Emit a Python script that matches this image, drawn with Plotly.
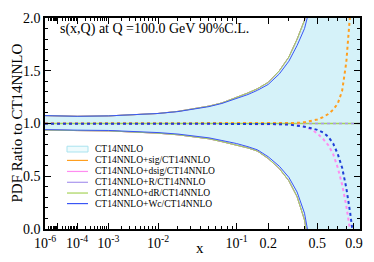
import plotly.graph_objects as go

# ---------------- data ----------------
P = 0.2  # x-axis is linear in x**P

x_band = [1e-6, 1e-5, 1e-4, 1e-3, 3e-3, 1e-2, 2e-2, 3e-2, 5e-2, 0.07, 0.1, 0.13,
          0.16, 0.2, 0.25, 0.3, 0.35, 0.4, 0.45, 0.5, 0.6, 0.7, 0.8, 0.9, 1.0]
ct14_up = [1.075, 1.07, 1.068, 1.072, 1.08, 1.095, 1.115, 1.135, 1.165, 1.195, 1.245, 1.29,
           1.33, 1.39, 1.50, 1.63, 1.80, 1.98, 2.25, 2.6, 3.3, 4.0, 4.5, 5.0, 5.5]
ct14_lo = [0.938, 0.935, 0.933, 0.93, 0.923, 0.908, 0.893, 0.878, 0.855, 0.828, 0.798, 0.768,
           0.738, 0.668, 0.572, 0.457, 0.305, 0.085, -0.3, -0.8, -1.5, -2.0, -2.5, -3.0, -3.5]
wc_up = [1.075, 1.07, 1.068, 1.072, 1.08, 1.095, 1.113, 1.13, 1.16, 1.19, 1.235, 1.275,
         1.315, 1.37, 1.47, 1.59, 1.74, 1.90, 2.15, 2.5, 3.2, 3.9, 4.4, 4.9, 5.4]
wc_lo = [0.942, 0.939, 0.937, 0.934, 0.928, 0.914, 0.9, 0.887, 0.864, 0.839, 0.81, 0.78,
         0.75, 0.685, 0.595, 0.49, 0.35, 0.15, -0.2, -0.7, -1.4, -1.9, -2.4, -2.9, -3.4]

x_cen = [1e-6, 1e-3, 0.1, 0.2, 0.3, 0.35, 0.4, 0.45, 0.5, 0.55, 0.6, 0.65,
         0.7, 0.75, 0.8, 0.85, 0.9, 0.95, 1.0]
sig_cen = [1.0, 1.0, 1.0, 1.0, 1.003, 1.006, 1.012, 1.022, 1.038, 1.06, 1.09, 1.13,
           1.19, 1.31, 1.58, 2.05, 3.0, 4.0, 5.0]
dsig_cen = [1.0, 1.0, 1.0, 0.998, 0.993, 0.985, 0.97, 0.945, 0.905, 0.855, 0.795, 0.71,
            0.58, 0.42, 0.22, -0.02, -0.4, -0.9, -1.5]
r_cen = [1.0, 1.0, 1.0, 1.0, 1.0, 1.0, 1.0, 1.0, 1.0, 1.0, 1.0, 1.0,
         1.0, 1.0, 1.0, 1.0, 1.0, 1.0, 1.0]
dr_cen = [1.0, 1.0, 1.0, 1.0, 1.0, 1.0, 1.0, 1.0, 1.0, 1.0, 1.0, 1.0,
          1.0, 1.0, 1.0, 1.0, 1.0, 1.0, 1.0]
wc_cen = [0.998, 0.998, 0.998, 0.996, 0.99, 0.982, 0.97, 0.955, 0.94, 0.915, 0.875, 0.81,
          0.71, 0.58, 0.39, 0.15, -0.12, -0.6, -1.2]

legend_labels = ["CT14NNLO", "CT14NNLO+sig/CT14NNLO", "CT14NNLO+dsig/CT14NNLO",
                 "CT14NNLO+R/CT14NNLO", "CT14NNLO+dR/CT14NNLO", "CT14NNLO+Wc/CT14NNLO"]

x_tick_vals = [1e-6, 1e-5, 1e-4, 1e-3, 1e-2, 0.1, 0.2, 0.5, 0.9]
x_tick_text = ["10<sup>-6</sup>", "", "10<sup>-4</sup>", "10<sup>-3</sup>", "10<sup>-2</sup>",
               "10<sup>-1</sup>", "0.2", "0.5", "0.9"]
x_minor_mult = [2, 3, 4, 5, 6, 7, 8, 9]
x_minor_decades = [1e-6, 1e-5, 1e-4, 1e-3, 1e-2, 1e-1]

title_text = "s(x,Q) at Q =100.0 GeV 90%C.L."

# ---------------- styles ----------------
FONT = "Liberation Serif"
BAND_FILL = "#d5f2f9"
BAND_LINE = "#a9e3ef"
C_SIG = "#ff9f1f"
C_DSIG = "#ff8cf0"
C_R = "#a996ee"
C_DR = "#a6d35a"
C_WC = "#3a56f5"
C_WC_DOT = "#1f3fd8"

def tx(xs):
    return [v ** P for v in xs]

fig = go.Figure()
# CT14NNLO band
fig.add_trace(go.Scatter(x=tx(x_band), y=ct14_lo, mode="lines",
                         line=dict(color=BAND_LINE, width=0.6), showlegend=False))
fig.add_trace(go.Scatter(x=tx(x_band), y=ct14_up, mode="lines", fill="tonexty",
                         fillcolor=BAND_FILL, line=dict(color=BAND_LINE, width=0.6),
                         showlegend=False))
# error edges of the variants
for col, up, lo in [(C_SIG, ct14_up, ct14_lo), (C_DSIG, ct14_up, ct14_lo),
                    (C_R, ct14_up, ct14_lo), (C_DR, ct14_up, ct14_lo), (C_WC, wc_up, wc_lo)]:
    for arr in (up, lo):
        fig.add_trace(go.Scatter(x=tx(x_band), y=arr, mode="lines",
                                 line=dict(color=col, width=1), showlegend=False))
# central values
fig.add_trace(go.Scatter(x=tx(x_cen), y=dr_cen, mode="lines",
                         line=dict(color=C_DR, width=1.5), showlegend=False))
fig.add_trace(go.Scatter(x=tx(x_cen), y=r_cen, mode="lines",
                         line=dict(color=C_R, width=1.5, dash="dot"), showlegend=False))
fig.add_trace(go.Scatter(x=tx(x_cen), y=dsig_cen, mode="lines",
                         line=dict(color=C_DSIG, width=2, dash="dot"), showlegend=False))
fig.add_trace(go.Scatter(x=tx(x_cen), y=sig_cen, mode="lines",
                         line=dict(color=C_SIG, width=2, dash="dot"), showlegend=False))
fig.add_trace(go.Scatter(x=tx(x_cen), y=wc_cen, mode="lines",
                         line=dict(color=C_WC_DOT, width=2, dash="dot"), showlegend=False))

# ---------------- layout ----------------
L, R, T, B = 45, 14, 11, 31
W, H = 374, 262
PW, PH = W - L - R, H - T - B

def px(xp):
    return (xp - L) / PW

def py(yp):
    return (H - B - yp) / PH

minor_x = [m * d for d in x_minor_decades for m in x_minor_mult if m * d < 0.97]

fig.update_layout(
    width=W, height=H, margin=dict(l=L, r=R, t=T, b=B),
    paper_bgcolor="white", plot_bgcolor="white",
    font=dict(family=FONT, size=14, color="black"),
    showlegend=False,
    xaxis=dict(range=[(1e-6) ** P, 0.997], tickvals=tx(x_tick_vals), ticktext=x_tick_text,
               ticks="inside", ticklen=6, tickwidth=1, tickcolor="black",
               showline=True, linecolor="black", linewidth=1.5, mirror="ticks",
               showgrid=False, zeroline=False, tickfont=dict(size=14),
               minor=dict(tickvals=tx(minor_x), ticks="inside", ticklen=3,
                          tickcolor="black", tickwidth=1, showgrid=False)),
    yaxis=dict(range=[0, 2], dtick=0.5, tickformat=".1f",
               ticks="inside", ticklen=6, tickwidth=1, tickcolor="black",
               showline=True, linecolor="black", linewidth=1.5, mirror="ticks",
               showgrid=False, zeroline=False, tickfont=dict(size=14),
               minor=dict(dtick=0.1, ticks="inside", ticklen=3, tickcolor="black",
                          tickwidth=1, showgrid=False)),
)

ann = []
ann.append(dict(text=title_text, x=px(58), y=py(22), xref="paper", yref="paper",
                xanchor="left", yanchor="middle", showarrow=False,
                font=dict(family=FONT, size=14)))
ann.append(dict(text="PDF Ratio to CT14NNLO", x=px(16), y=0.5, xref="paper", yref="paper",
                textangle=-90, xanchor="center", yanchor="middle", showarrow=False,
                font=dict(family=FONT, size=15)))
ann.append(dict(text="x", x=px(200), y=py(251), xref="paper", yref="paper",
                xanchor="center", yanchor="middle", showarrow=False,
                font=dict(family=FONT, size=15)))

rows = [147.7, 159.5, 171, 182.3, 193.5, 204.5]
colors = [None, C_SIG, C_DSIG, C_R, C_DR, C_WC]
shapes = []
for lab, yr, col in zip(legend_labels, rows, colors):
    if col is None:
        shapes.append(dict(type="rect", xref="paper", yref="paper",
                           x0=px(67), x1=px(88), y0=py(yr + 3), y1=py(yr - 3),
                           fillcolor="#eefbfd", line=dict(color=BAND_LINE, width=1)))
    else:
        shapes.append(dict(type="line", xref="paper", yref="paper",
                           x0=px(67), x1=px(88), y0=py(yr), y1=py(yr),
                           line=dict(color=col, width=1.2)))
    ann.append(dict(text=lab, x=px(92.5), y=py(yr), xref="paper", yref="paper",
                    xanchor="left", yanchor="middle", showarrow=False,
                    font=dict(family=FONT, size=9.5)))

fig.update_layout(annotations=ann, shapes=shapes)
fig.write_html("out.html", config={"displayModeBar": False},
               post_script="document.body.style.margin='0';")
